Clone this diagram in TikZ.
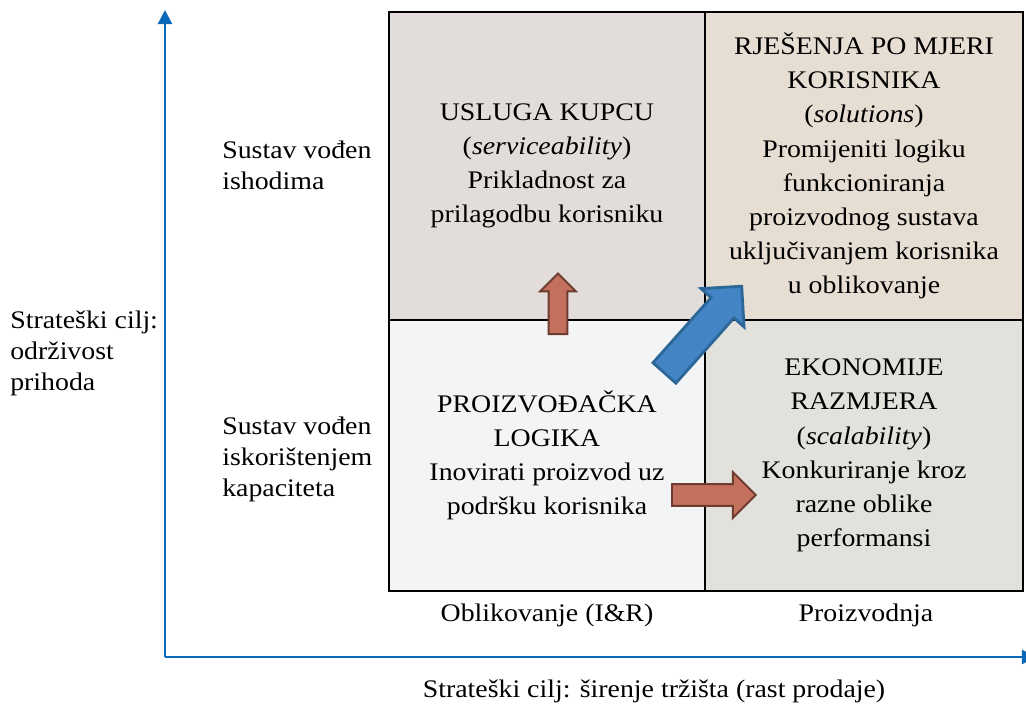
\documentclass[tikz,border=0pt]{standalone}
\usepackage{fontspec}
\setmainfont{Liberation Serif}[FakeStretch=1.1]
\usetikzlibrary{arrows.meta,shapes.arrows}

\definecolor{axisblue}{HTML}{0A68B8}
\definecolor{tlfill}{HTML}{E2DDDA}
\definecolor{trfill}{HTML}{E6DDD3}
\definecolor{blfill}{HTML}{F3F4F6}
\definecolor{brfill}{HTML}{E2E1DC}
\definecolor{redfill}{HTML}{C3705F}
\definecolor{reddraw}{HTML}{6E3B2F}
\definecolor{bluefill}{HTML}{4384C4}
\definecolor{bluedraw}{HTML}{2D6798}

\begin{document}
\begin{tikzpicture}[x=0.025cm, y=-0.025cm,
    text_style/.style = {font=\fontsize{18}{24.3}\selectfont},
    side_style/.style = {font=\fontsize{18}{21.8}\selectfont, align=left, inner sep=0pt, anchor=north west},
    cell_style/.style = {draw, line width=1.4pt, rectangle, inner sep=0pt, align=center, text_style},
    axis_style/.style = {draw=axisblue, line width=1.6pt, -{Triangle[length=10pt, width=10pt]}},
    arrow_style/.style = {single arrow, line width=1.4pt, inner xsep=0pt, single arrow head indent=0pt, anchor=tail}]

\useasboundingbox (0,0) rectangle (1026,705);

% quadrants
\node[cell_style, fill=tlfill, minimum width=7.9cm, minimum height=7.7cm] (usluga) at (547,166) {
    USLUGA KUPCU\\
    (\textit{serviceability})\\
    Prikladnost za\\
    prilagodbu korisniku};

\node[cell_style, fill=trfill, minimum width=7.95cm, minimum height=7.7cm] (rjesenja) at (864,166) {
    RJEŠENJA PO MJERI\\
    KORISNIKA\\
    (\textit{solutions})\\
    Promijeniti logiku\\
    funkcioniranja\\
    proizvodnog sustava\\
    uključivanjem korisnika\\
    u oblikovanje};

\node[cell_style, fill=blfill, minimum width=7.9cm, minimum height=6.775cm] (logika) at (547,455.5) {
    PROIZVOĐAČKA\\
    LOGIKA\\
    Inovirati proizvod uz\\
    podršku korisnika};

\node[cell_style, fill=brfill, minimum width=7.95cm, minimum height=6.775cm] (ekonomije) at (864,455.5) {
    EKONOMIJE\\
    RAZMJERA\\
    (\textit{scalability})\\
    Konkuriranje kroz\\
    razne oblike\\
    performansi};

% axes
\coordinate (origin) at (165,657);
\coordinate (y_end) at (165,10);
\coordinate (x_end) at (1036,657);
\draw[axis_style] (origin) -- (y_end);
\draw[axis_style] (origin) -- (x_end);

% axis labels
\node[side_style] (cilj_y) at (10,311) {Strateški cilj:\\održivost\\prihoda};
\node[side_style] (ishodi) at (222,141) {Sustav vođen\\ishodima};
\node[side_style] (kapacitet) at (222,417) {Sustav vođen\\iskorištenjem\\kapaciteta};
\node[text_style, anchor=base] (oblikovanje) at (547,621) {Oblikovanje (I\&R)};
\node[text_style, anchor=base] (proizvodnja) at (866,621) {Proizvodnja};
\node[text_style, anchor=base] (cilj_x) at (654,697) {Strateški cilj: širenje tržišta (rast prodaje)};

% transitions
\node[arrow_style, draw=reddraw, fill=redfill, rotate=90, inner ysep=6pt,
      single arrow head extend=6pt, minimum height=43pt] (prema_usluzi) at (558,335) {};
\node[arrow_style, draw=reddraw, fill=redfill, inner ysep=7pt,
      single arrow head extend=8.5pt, minimum height=59.5pt] (prema_ekonomiji) at (671,495) {};
\node[arrow_style, draw=bluedraw, fill=bluefill, rotate=48.3, inner ysep=9.9pt,
      single arrow head extend=9.6pt, minimum height=82.6pt, line width=2pt] (prema_rjesenju) at (663.5,374) {};

\end{tikzpicture}
\end{document}
